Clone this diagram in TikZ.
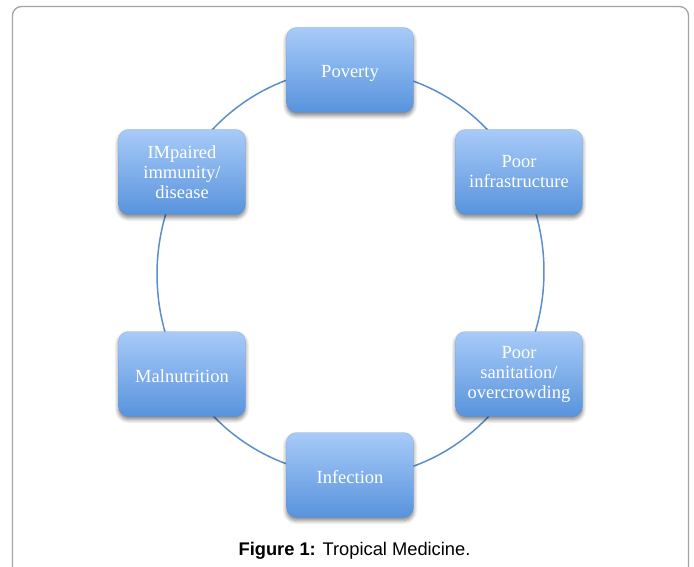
\documentclass[tikz,border=0pt]{standalone}
\usepackage{fontspec}
\setmainfont{Liberation Serif}
\newfontfamily\capfont{Liberation Sans}
\usetikzlibrary{shadows.blur,backgrounds}
\definecolor{boxtop}{HTML}{A8CBF8}
\definecolor{boxbot}{HTML}{5893DD}
\definecolor{ringcol}{HTML}{5B8FCB}
\definecolor{framecol}{HTML}{A3A3A3}
\tikzset{
  boxnode/.style={rounded corners=10pt, minimum width=127pt, minimum height=85pt,
    top color=boxtop, bottom color=boxbot, draw=boxbot!90!black, draw opacity=0.35, line width=0.4pt,
    text=white, align=center, inner sep=2pt,
    font=\fontsize{18.5}{20}\selectfont,
    execute at begin node={\rule{0pt}{18pt}},
    blur shadow={shadow xshift=0pt, shadow yshift=-3pt, shadow blur steps=6, shadow opacity=50, shadow blur radius=4pt}},
  ring/.style={draw=ringcol, line width=1.5pt},
  frame/.style={draw=framecol, line width=1.3pt, rounded corners=9pt}
}
\begin{document}
\begin{tikzpicture}[x=1pt,y=-1pt]
\useasboundingbox (0,0) rectangle (694,567);
\draw[frame] (12.5,600) -- (12.5,6.5) -- (688.5,6.5) -- (688.5,600);
\node[boxnode] (P) at (350,70) {Poverty};
\node[boxnode] (PI) at (519,172) {Poor\\infrastructure};
\node[boxnode] (PS) at (519,374) {Poor\\sanitation/\\overcrowding};
\node[boxnode] (INF) at (350,475) {Infection};
\node[boxnode] (MAL) at (182,374) {Malnutrition};
\node[boxnode] (IMP) at (182,172) {IMpaired\\immunity/\\disease};
\begin{pgfonlayer}{background}
\draw[ring] (P.center) arc[start angle=-90, end angle=-29.4, x radius=194, y radius=203];
\draw[ring] (PI.center) arc[start angle=-29.4, end angle=29.4, x radius=194, y radius=203];
\draw[ring] (PS.center) arc[start angle=29.4, end angle=90, x radius=194, y radius=203];
\draw[ring] (INF.center) arc[start angle=90, end angle=150.6, x radius=194, y radius=203];
\draw[ring] (MAL.center) arc[start angle=150.6, end angle=209.4, x radius=194, y radius=203];
\draw[ring] (IMP.center) arc[start angle=209.4, end angle=270, x radius=194, y radius=203];
\end{pgfonlayer}
\node[font=\capfont\fontsize{18.3}{20}\selectfont, anchor=base] (cap) at (354.5,555) {\textbf{Figure 1:} Tropical Medicine.};
\end{tikzpicture}
\end{document}
